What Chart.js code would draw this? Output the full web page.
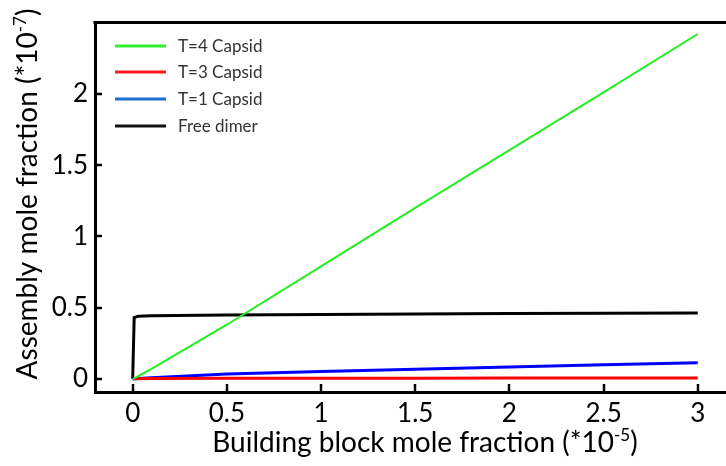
<!DOCTYPE html>
<html>
<head>
<meta charset="utf-8">
<script src="https://cdn.jsdelivr.net/npm/chart.js@4.4.0/dist/chart.umd.min.js"></script>
<style>
  html, body { margin: 0; padding: 0; background: #fff; }
  #wrap { width: 726px; height: 466px; }
</style>
</head>
<body>
<div id="wrap"><canvas id="c" width="726" height="466"></canvas></div>
<script>
// Building block mole fraction (x, in units of 1e-5)
const buildingBlock = [0, 0.008, 0.03, 0.1, 0.5, 1, 1.5, 2, 2.5, 3];
// Assembly mole fractions (y, in units of 1e-7)
const t4Capsid  = [0, 0.004, 0.02, 0.07, 0.38, 0.79, 1.2, 1.605, 2.01, 2.42];
const t3Capsid  = [0, 0.0005, 0.001, 0.002, 0.004, 0.005, 0.005, 0.006, 0.006, 0.007];
const t1Capsid  = [0, 0.001, 0.003, 0.008, 0.034, 0.052, 0.068, 0.084, 0.099, 0.114];
const freeDimer = [0, 0.43, 0.44, 0.443, 0.448, 0.452, 0.455, 0.458, 0.46, 0.462];

const seriesLabels = ['T=4 Capsid', 'T=3 Capsid', 'T=1 Capsid', 'Free dimer'];
const xTickValues = [0, 0.5, 1, 1.5, 2, 2.5, 3];
const yTickValues = [0, 0.5, 1, 1.5, 2];

const FONT = 'Lato, "Open Sans", sans-serif';
const lineColors   = ['#22ee22', '#ff0000', '#0000ff', '#000000'];
const legendColors = ['#33ee33', '#ff1a1a', '#1f6fd0', '#111111'];
const lineWidths   = [2, 3, 3, 3];

const seriesValues = [t4Capsid, t3Capsid, t1Capsid, freeDimer];
const datasets = seriesValues.map((vals, k) => ({
  label: seriesLabels[k],
  data: buildingBlock.map((x, i) => ({ x: x, y: vals[i] })),
  borderColor: lineColors[k],
  backgroundColor: lineColors[k],
  borderWidth: lineWidths[k],
  pointRadius: 0,
  tension: 0,
  fill: false
}));

// Inner tick marks, top frame line, legend and axis titles
const decorations = {
  id: 'decorations',
  afterDraw(chart) {
    const ctx = chart.ctx;
    const xs = chart.scales.x, ys = chart.scales.y;
    const area = chart.chartArea;
    ctx.save();
    ctx.strokeStyle = '#000';
    ctx.lineWidth = 3;
    ctx.beginPath();
    ctx.moveTo(area.left - 1.5, area.top);
    ctx.lineTo(chart.width, area.top);
    ctx.stroke();

    ctx.lineWidth = 2.5;
    xTickValues.forEach(v => {
      const px = Math.round(xs.getPixelForValue(v));
      ctx.beginPath();
      ctx.moveTo(px, area.bottom);
      ctx.lineTo(px, area.bottom - 8);
      ctx.stroke();
    });
    yTickValues.forEach(v => {
      const py = Math.round(ys.getPixelForValue(v));
      ctx.beginPath();
      ctx.moveTo(area.left, py);
      ctx.lineTo(area.left + 7, py);
      ctx.stroke();
    });

    // legend
    const legendY = [46, 72, 99, 126];
    ctx.font = '17px ' + FONT;
    ctx.textBaseline = 'middle';
    ctx.textAlign = 'left';
    chart.data.datasets.forEach((ds, k) => {
      ctx.strokeStyle = legendColors[k];
      ctx.lineWidth = 3;
      ctx.beginPath();
      ctx.moveTo(115, legendY[k]);
      ctx.lineTo(166, legendY[k]);
      ctx.stroke();
      ctx.fillStyle = '#333';
      ctx.fillText(ds.label, 178, legendY[k] + 1);
    });

    // axis titles with superscript exponents
    const drawTitle = (main, sup, tail, size) => {
      ctx.font = size + 'px ' + FONT;
      const w1 = ctx.measureText(main).width;
      const w3 = ctx.measureText(tail).width;
      ctx.font = Math.round(size * 0.6) + 'px ' + FONT;
      const w2 = ctx.measureText(sup).width;
      const total = w1 + w2 + w3;
      let x = -total / 2;
      ctx.textAlign = 'left';
      ctx.textBaseline = 'alphabetic';
      ctx.fillStyle = '#000';
      ctx.font = size + 'px ' + FONT;
      ctx.fillText(main, x, 0);
      x += w1;
      ctx.font = Math.round(size * 0.6) + 'px ' + FONT;
      ctx.fillText(sup, x, -size * 0.4);
      x += w2;
      ctx.font = size + 'px ' + FONT;
      ctx.fillText(tail, x, 0);
    };

    ctx.save();
    ctx.translate(425, 452);
    drawTitle('Building block mole fraction (*10', '-5', ')', 28);
    ctx.restore();

    ctx.save();
    ctx.translate(37, 194);
    ctx.rotate(-Math.PI / 2);
    drawTitle('Assembly mole fraction (*10', '-7', ')', 28);
    ctx.restore();

    ctx.restore();
  }
};

new Chart(document.getElementById('c'), {
  type: 'line',
  data: { datasets: datasets },
  options: {
    responsive: false,
    devicePixelRatio: 1,
    animation: false,
    layout: { padding: { top: 12, right: 0, left: 0, bottom: 0 } },
    plugins: {
      legend: { display: false },
      tooltip: { enabled: false }
    },
    scales: {
      x: {
        type: 'linear',
        min: -0.2,
        max: 3.15,
        afterBuildTicks: s => { s.ticks = xTickValues.map(v => ({ value: v })); },
        afterFit: s => { s.height = 74; },
        grid: { display: false, drawTicks: false },
        border: { display: true, color: '#000', width: 3 },
        ticks: {
          color: '#000',
          font: { family: FONT, size: 26 },
          padding: 6,
          maxRotation: 0,
          autoSkip: false,
          callback: v => String(v)
        }
      },
      y: {
        type: 'linear',
        min: -0.092,
        max: 2.5,
        afterBuildTicks: s => { s.ticks = yTickValues.map(v => ({ value: v })); },
        afterFit: s => { s.width = 95; },
        grid: { display: false, drawTicks: false },
        border: { display: true, color: '#000', width: 3 },
        ticks: {
          color: '#000',
          font: { family: FONT, size: 26 },
          padding: 7,
          callback: v => String(v)
        }
      }
    }
  },
  plugins: [decorations]
});
</script>
</body>
</html>
